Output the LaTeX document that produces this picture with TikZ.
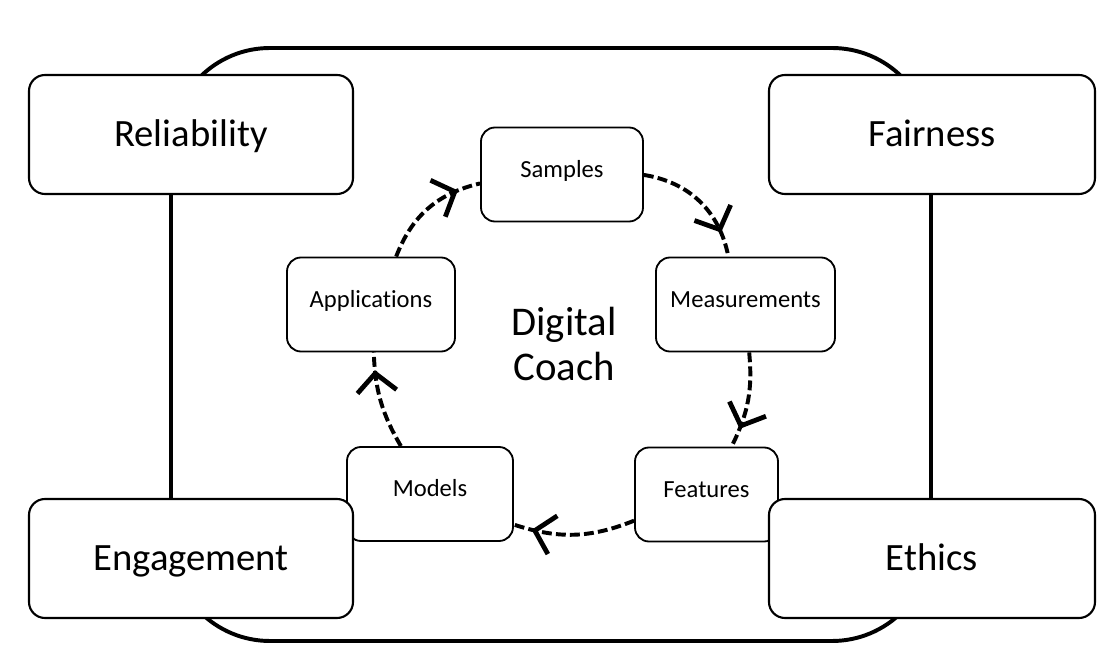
\documentclass[tikz,border=0pt]{standalone}
\usepackage{fontspec}
\setmainfont{Carlito}[Ligatures=NoCommon]
\usetikzlibrary{arrows.meta,decorations.markings}

\begin{document}
\begin{tikzpicture}
  \tikzstyle{pillar}=[draw,fill=white,rounded corners=0.4cm,line width=1.5pt,minimum width=8.1cm,minimum height=2.975cm,text height=24pt,text depth=7.6pt,font=\fontsize{27.5}{33}\selectfont]
  \tikzstyle{stage}=[draw,fill=white,rounded corners=0.35cm,line width=1.3pt,minimum height=2.35cm,text height=12pt,text depth=8.4pt,font=\fontsize{17.5}{21}\selectfont]
  \tikzset{cycleflow/.style={line width=2.8pt,dash pattern=on 7pt off 3pt,postaction={decorate},
    decoration={markings,mark=at position #1 with {\arrow{Straight Barb[length=13pt,width=28pt,line width=3.4pt]}}}}}
  \useasboundingbox (0,0) rectangle (27.9,16.65);
  \draw[line width=2.8pt,rounded corners=2.475cm] (4.275,0.625) rectangle (23.275,15.45);
  \node[stage,minimum width=4.05cm] (smp) at (14.05,12.2875) {Samples};
  \node[stage,minimum width=4.475cm] (meas) at (18.6375,9.0375) {Measurements};
  \node[stage,minimum width=3.575cm] (feat) at (17.6625,4.2875) {Features};
  \node[stage,minimum width=4.15cm] (mdl) at (10.75,4.3) {Models};
  \node[stage,minimum width=4.2cm] (app) at (9.275,9.0375) {Applications};
  \node[align=center,font=\fontsize{29}{32}\selectfont] (coach) at (14.1,8.05) {Digital\\Coach};
  \draw[cycleflow=0.8] (app) to[bend left=28] (smp);
  \draw[cycleflow=0.8] (smp) to[bend left=35] (meas);
  \draw[cycleflow=0.8] (meas) to[bend left=16] (feat);
  \draw[cycleflow=0.85] (feat) to[bend left=20] (mdl);
  \draw[cycleflow=0.82] (mdl) to[bend left=14] (app);
  \node[pillar] (rel) at (4.775,13.2875) {Reliability};
  \node[pillar,minimum width=8.15cm] (fair) at (23.3,13.2875) {Fairness};
  \node[pillar] (eng) at (4.775,2.6875) {Engagement};
  \node[pillar,minimum width=8.15cm] (eth) at (23.3,2.6875) {Ethics};
\end{tikzpicture}
\end{document}
